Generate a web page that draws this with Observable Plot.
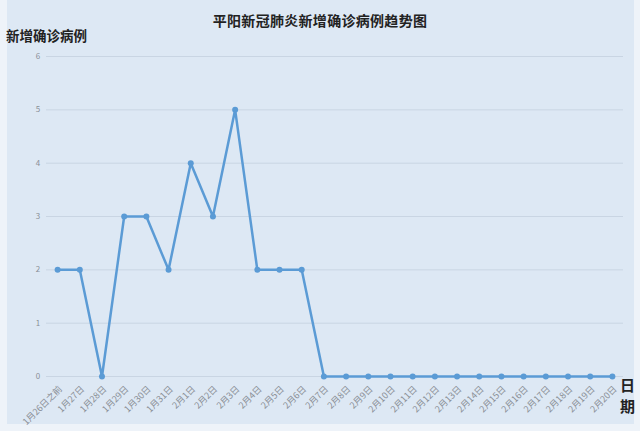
<!DOCTYPE html>
<html><head><meta charset="utf-8">
<script src="https://cdn.jsdelivr.net/npm/d3@7"></script>
<script src="https://cdn.jsdelivr.net/npm/@observablehq/plot@0.6"></script>
<style>
html,body{margin:0;padding:0;background:#eef3f9;}
#wrap{position:relative;width:640px;height:431px;overflow:hidden;font-family:"Noto Sans CJK SC",sans-serif;}
#panel{position:absolute;left:7px;top:0;width:627px;height:424px;background:#dde8f4;}
#chart{position:absolute;left:0;top:0;}
.t{position:absolute;color:#222;white-space:nowrap;}
</style></head>
<body>
<div id="wrap">
<div id="panel"></div>
<div id="chart"></div>
<div class="t" style="left:0;width:640px;text-align:center;top:10px;font-size:14px;font-weight:bold;letter-spacing:0.3px">平阳新冠肺炎新增确诊病例趋势图</div>
<div class="t" style="left:6px;top:25px;font-size:13.5px;font-weight:bold;">新增确诊病例</div>
<div class="t" style="left:620px;top:374px;font-size:15px;line-height:21px;width:16px;font-weight:bold;">日<br>期</div>
</div>
<script>
const dates = ["1月26日之前","1月27日","1月28日","1月29日","1月30日","1月31日","2月1日","2月2日","2月3日","2月4日","2月5日","2月6日","2月7日","2月8日","2月9日","2月10日","2月11日","2月12日","2月13日","2月14日","2月15日","2月16日","2月17日","2月18日","2月19日","2月20日"];
const cases = [2,2,0,3,3,2,4,3,5,2,2,2,0,0,0,0,0,0,0,0,0,0,0,0,0,0];
const yTicks = [0,1,2,3,4,5,6];
const data = dates.map((d,i)=>({date:d, value:cases[i]}));

const chart = Plot.plot({
  width: 640, height: 431,
  marginTop: 56, marginBottom: 55, marginLeft: 46, marginRight: 17,
  style: {background: "transparent", fontFamily: "'Noto Sans CJK SC', sans-serif"},
  x: {type: "point", domain: dates, padding: 0.5, round: false, axis: null},
  y: {domain: [0, 6], axis: null},
  marks: [
    Plot.ruleY(yTicks, {stroke: "#c9d5e3", strokeWidth: 1}),
    Plot.text(yTicks, {frameAnchor: "left", y: d => d, text: d => String(d), dx: -8.5, textAnchor: "middle", fill: "#8a8f96", fontSize: 8}),
    Plot.line(data, {x: "date", y: "value", stroke: "#5b9bd5", strokeWidth: 2.5}),
    Plot.dot(data, {x: "date", y: "value", fill: "#5b9bd5", r: 3}),
    Plot.text(data, {x: "date", y: () => 0, text: "date", rotate: -45, textAnchor: "end", dy: 11, dx: 3, fill: "#8a8f96", fontSize: 9})
  ]
});
document.getElementById("chart").appendChild(chart);
</script>
</body></html>
